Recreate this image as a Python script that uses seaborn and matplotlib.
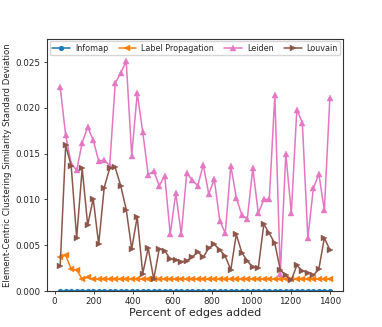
import numpy as np
import pandas as pd
import matplotlib
matplotlib.use('Agg')
import matplotlib.pyplot as plt
import seaborn as sns

# percent of edges added
pct = [28, 56, 84, 112, 140, 168, 196, 224, 252, 280,
       308, 336, 364, 392, 420, 448, 476, 504, 532, 560,
       588, 616, 644, 672, 700, 728, 756, 784, 812, 840,
       868, 896, 924, 952, 980, 1008, 1036, 1064, 1092, 1120,
       1148, 1176, 1204, 1232, 1260, 1288, 1316, 1344, 1372, 1400]

infomap = [0.0] * 50

label_prop = [0.0037, 0.0039, 0.0024, 0.0023, 0.0013, 0.0015, 0.0013, 0.0013, 0.0013, 0.0013,
              0.0013, 0.0013, 0.0013, 0.0013, 0.0013, 0.0013, 0.0013, 0.0013, 0.0013, 0.0013,
              0.0013, 0.0013, 0.0013, 0.0013, 0.0013, 0.0013, 0.0013, 0.0013, 0.0013, 0.0013,
              0.0013, 0.0013, 0.0013, 0.0013, 0.0013, 0.0013, 0.0013, 0.0013, 0.0013, 0.0013,
              0.0013, 0.0013, 0.0013, 0.0013, 0.0013, 0.0013, 0.0013, 0.0013, 0.0013, 0.0013]

leiden = [0.0223, 0.0170, 0.0139, 0.0132, 0.0162, 0.0179, 0.0165, 0.0142, 0.0143, 0.0137,
          0.0227, 0.0238, 0.0251, 0.0148, 0.0216, 0.0174, 0.0127, 0.0131, 0.0115, 0.0126,
          0.0062, 0.0107, 0.0062, 0.0129, 0.0121, 0.0115, 0.0138, 0.0106, 0.0122, 0.0077,
          0.0063, 0.0137, 0.0102, 0.0083, 0.0079, 0.0134, 0.0085, 0.0100, 0.0100, 0.0214,
          0.0019, 0.0150, 0.0085, 0.0198, 0.0184, 0.0058, 0.0112, 0.0128, 0.0088, 0.0211]

louvain = [0.0027, 0.0159, 0.0137, 0.0058, 0.0134, 0.0072, 0.0101, 0.0051, 0.0113, 0.0134,
           0.0135, 0.0115, 0.0089, 0.0046, 0.0081, 0.0019, 0.0047, 0.0013, 0.0046, 0.0044,
           0.0035, 0.0034, 0.0032, 0.0033, 0.0037, 0.0043, 0.0037, 0.0047, 0.0051, 0.0045,
           0.0038, 0.0023, 0.0062, 0.0042, 0.0033, 0.0026, 0.0025, 0.0073, 0.0063, 0.0052,
           0.0023, 0.0017, 0.0012, 0.0028, 0.0022, 0.0020, 0.0017, 0.0024, 0.0058, 0.0045]

sns.set_style('ticks')
plt.rcParams['font.family'] = ['DejaVu Sans']

fig = plt.figure(figsize=(3.82, 3.27), dpi=100)
ax = fig.add_axes([0.122, 0.110, 0.777, 0.770])

series = [('Infomap', infomap, 'o', '#1f77b4', 3.5),
          ('Label Propagation', label_prop, '<', '#ff7f0e', 4.0),
          ('Leiden', leiden, '^', '#e377c2', 4.0),
          ('Louvain', louvain, '>', '#8c564b', 4.0)]
for name, vals, mk, c, ms in series:
    sns.lineplot(x=pct, y=vals, marker=mk, color=c, label=name, ax=ax,
                 markersize=ms, linewidth=1.1, markeredgewidth=0.3,
                 markeredgecolor=c)

ax.set_ylim(0, 0.0275)
ax.set_xlim(-41, 1469)
ax.set_xticks([0, 200, 400, 600, 800, 1000, 1200, 1400])
ax.set_yticks([0.0, 0.005, 0.01, 0.015, 0.02, 0.025])
ax.yaxis.set_major_formatter(matplotlib.ticker.FormatStrFormatter('%.3f'))
ax.tick_params(labelsize=6.3, length=2.5, width=0.6, pad=2)
for s in ax.spines.values():
    s.set_linewidth(0.8)
    s.set_color('#333333')
ax.set_xlabel('Percent of edges added', fontsize=8, labelpad=1)
ax.set_ylabel('Element-Centric Clustering Similarity Standard Deviation', fontsize=6.1, labelpad=2)
ax.legend(loc='upper center', ncol=4, fontsize=5.8, frameon=True,
          columnspacing=1.3, handlelength=2.2, handletextpad=0.6,
          borderaxespad=0.25, borderpad=0.3)

fig.savefig('out.png', dpi=100)
